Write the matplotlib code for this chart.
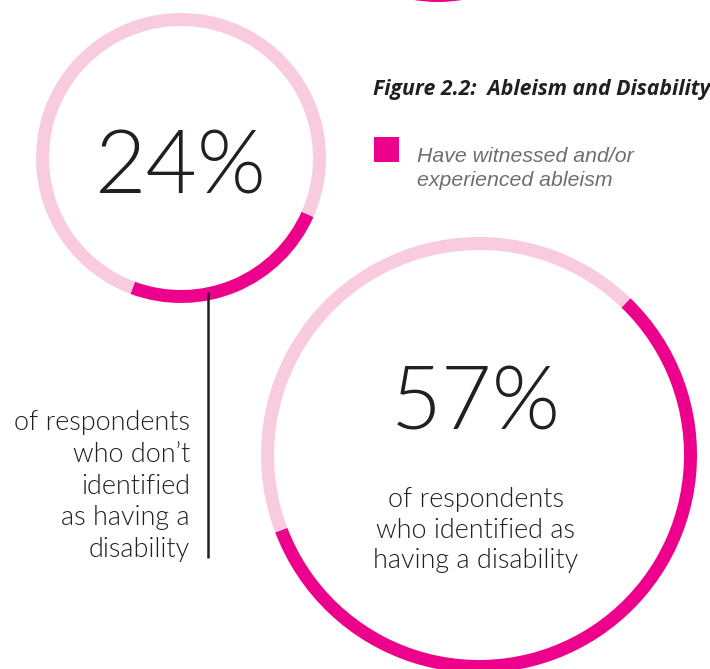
import matplotlib
matplotlib.use("Agg")
import matplotlib.pyplot as plt
from matplotlib import font_manager
from matplotlib.font_manager import FontProperties
from matplotlib.patches import Rectangle

# data
shares = [24, 57]
big_labels = ["24%", "57%"]
left_lines = ["of respondents", "who don\u2019t", "identified", "as having a", "disability"]
right_lines = ["of respondents", "who identified as", "having a disability"]
title = "Figure 2.2:  Ableism and Disability"
legend_lines = ["Have witnessed and/or", "experienced ableism"]

MAGENTA = "#ec008c"
PINK = "#f9cbdf"
INK = "#231f20"
GREY = "#6d6e70"

W, H = 710, 669
fig = plt.figure(figsize=(W / 100, H / 100), dpi=100)
ax = fig.add_axes([0, 0, 1, 1])
ax.set_xlim(0, W)
ax.set_ylim(0, H)
renderer = fig.canvas.get_renderer()


def py(y):
    # pixel row -> data y
    return H - y


def light_font():
    bad = ["italic", "extra", "semi", "cond", "hair", "thin", "narrow"]
    for fam in ["Lato", "Open Sans", "Roboto", "Inter", "Noto Sans"]:
        for f in font_manager.fontManager.ttflist:
            fn = f.fname.lower().split("/")[-1]
            if f.name == fam and "light" in fn and not any(b in fn for b in bad):
                return FontProperties(fname=f.fname)
    return FontProperties(family="Lato")


LIGHT = light_font()


def fitted_text(x, y, s, width, fp, **kw):
    # put text and scale its size so that it is `width` pixels wide
    t = ax.text(x, y, s, fontproperties=fp, **kw)
    t.set_fontsize(20)
    w = t.get_window_extent(renderer).width
    t.set_fontsize(20 * width / w)
    return t


# rings: (center x, center y in px, radius, start angle)
rings = [(181, 158, 145, -24), (479, 455, 218, 46)]
for share, (cx, cy, r, start) in zip(shares, rings):
    ax.pie([share, 100 - share], colors=[MAGENTA, PINK], radius=r,
           center=(cx, py(cy)), startangle=start, counterclock=False,
           wedgeprops=dict(width=13, linewidth=0), frame=True)

# cut-off ring from the figure above
ax.pie([100], colors=[MAGENTA], radius=145, center=(438, py(-143)),
       wedgeprops=dict(width=13, linewidth=0), frame=True)

# big percentages
fitted_text(181, py(193), big_labels[0], 172, LIGHT, ha="center",
            va="baseline", color=INK)
fitted_text(476, py(430), big_labels[1], 170, LIGHT, ha="center",
            va="baseline", color=INK)

# descriptive texts
t0 = fitted_text(190, py(430), left_lines[0], 177, LIGHT, ha="right",
                 va="baseline", color=INK)
fs = t0.get_fontsize()
for i, line in enumerate(left_lines[1:], start=1):
    ax.text(190, py(430 + 31.75 * i), line, fontproperties=LIGHT, fontsize=fs,
            ha="right", va="baseline", color=INK)
for i, line in enumerate(right_lines):
    ax.text(476, py(507 + 30.5 * i), line, fontproperties=LIGHT, fontsize=fs,
            ha="center", va="baseline", color=INK)

# connector line
ax.plot([208, 208], [py(292), py(558)], color=INK, lw=1.8, solid_capstyle="butt")

# title and legend
fitted_text(373, py(95), title, 337,
            FontProperties(family="Open Sans", weight="bold", style="italic"),
            ha="left", va="baseline", color=INK)
ax.add_patch(Rectangle((374, py(162)), 25, 25, color=MAGENTA, lw=0))
lt = fitted_text(417, py(162), legend_lines[0], 216,
                 FontProperties(family="Liberation Sans", style="italic"),
                 ha="left", va="baseline", color=GREY)
ax.text(417, py(186), legend_lines[1], fontsize=lt.get_fontsize(),
        family="Liberation Sans", style="italic", ha="left", va="baseline",
        color=GREY)

ax.set_xlim(0, W)
ax.set_ylim(0, H)
ax.set_aspect("equal")
ax.axis("off")

fig.savefig("out.png", dpi=100)
